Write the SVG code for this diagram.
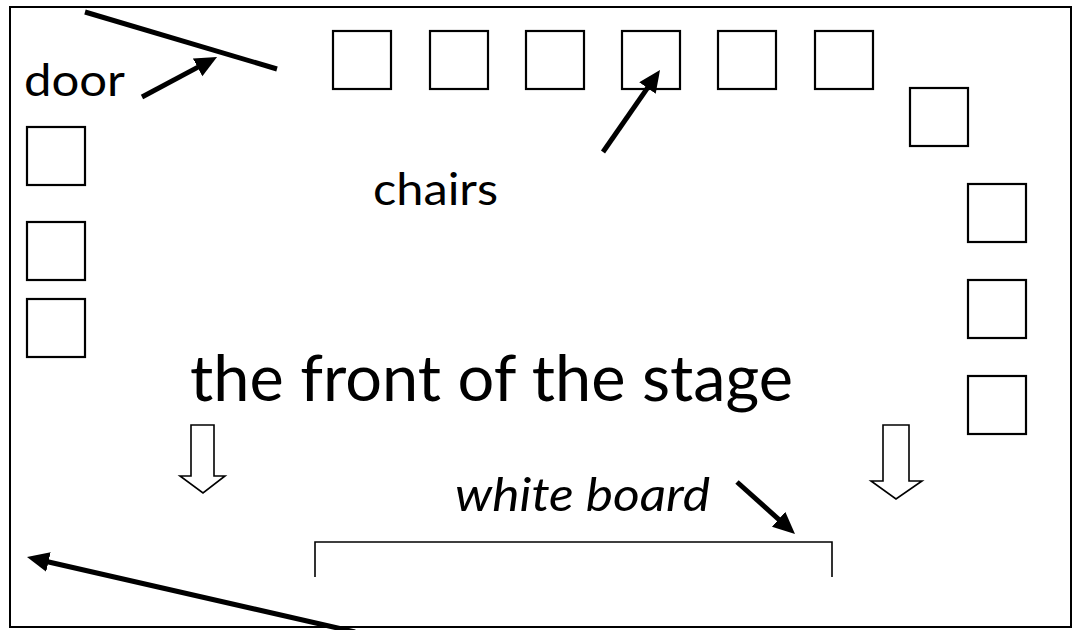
<svg xmlns="http://www.w3.org/2000/svg" width="1079" height="630" viewBox="0 0 1079 630">
  <style>
    .room { fill: #fff; stroke: #000; stroke-width: 2; }
    .chair { fill: #fff; stroke: #000; stroke-width: 2.2; }
    .label { font-family: Lato, "Open Sans", "Liberation Sans", sans-serif; fill: #000; }
    .pointer { stroke: #000; stroke-width: 5; fill: none; marker-end: url(#head); }
    .hollow { fill: #fff; stroke: #000; stroke-width: 1.6; stroke-linejoin: miter; }
    .board { fill: none; stroke: #000; stroke-width: 1.6; }
  </style>
  <defs>
    <marker id="head" markerUnits="userSpaceOnUse" markerWidth="24" markerHeight="22" refX="2" refY="10" orient="auto">
      <path d="M0,0 L22,10 L0,20 z" fill="#000"/>
    </marker>
  </defs>

  <!-- room outline -->
  <rect class="room" x="10" y="7" width="1061" height="620"/>

  <!-- door -->
  <g id="door">
    <line x1="85" y1="12" x2="277" y2="69" stroke="#000" stroke-width="5"/>
    <text class="label" x="24" y="96" font-size="45" textLength="101" lengthAdjust="spacingAndGlyphs">door</text>
  </g>

  <!-- chairs along the back wall -->
  <g id="chairs-top">
    <rect class="chair" x="333" y="31" width="58" height="58"/>
    <rect class="chair" x="430" y="31" width="58" height="58"/>
    <rect class="chair" x="526" y="31" width="58" height="58"/>
    <rect class="chair" x="622" y="31" width="58" height="58"/>
    <rect class="chair" x="718" y="31" width="58" height="58"/>
    <rect class="chair" x="815" y="31" width="58" height="58"/>
  </g>

  <!-- chairs on the right -->
  <g id="chairs-right">
    <rect class="chair" x="910" y="88" width="58" height="58"/>
    <rect class="chair" x="968" y="184" width="58" height="58"/>
    <rect class="chair" x="968" y="280" width="58" height="58"/>
    <rect class="chair" x="968" y="376" width="58" height="58"/>
  </g>

  <!-- chairs on the left -->
  <g id="chairs-left">
    <rect class="chair" x="27" y="127" width="58" height="58"/>
    <rect class="chair" x="27" y="222" width="58" height="58"/>
    <rect class="chair" x="27" y="299" width="58" height="58"/>
  </g>

  <g id="chairs-label">
    <text class="label" x="373" y="205" font-size="45" textLength="125" lengthAdjust="spacingAndGlyphs">chairs</text>
  </g>

  <g id="stage-label">
    <text class="label" x="190" y="401" font-size="63" textLength="603" lengthAdjust="spacingAndGlyphs">the front of the stage</text>
  </g>

  <!-- hollow direction arrows -->
  <g id="arrow-left">
    <path class="hollow" d="M191,425 L214,425 L214,476 L225,476 L203,493 L180,476 L191,476 Z"/>
  </g>
  <g id="arrow-right">
    <path class="hollow" d="M883,425 L909,425 L909,481 L922,481 L896,499 L871,481 L883,481 Z"/>
  </g>

  <!-- white board -->
  <g id="whiteboard">
    <path class="board" d="M315,577 L315,542 L832,542 L832,577"/>
    <text class="label" x="455" y="511" font-size="47" font-style="italic" textLength="255" lengthAdjust="spacingAndGlyphs">white board</text>
  </g>

  <!-- pointers -->
  <g id="connectors">
    <line class="pointer" x1="142" y1="97" x2="199.4" y2="66.4"/>
    <line class="pointer" x1="603" y1="152" x2="648.6" y2="86.4"/>
    <line class="pointer" x1="737" y1="482" x2="780.1" y2="520.6"/>
    <line class="pointer" x1="355" y1="632" x2="46.5" y2="561.5"/>
  </g>
</svg>
